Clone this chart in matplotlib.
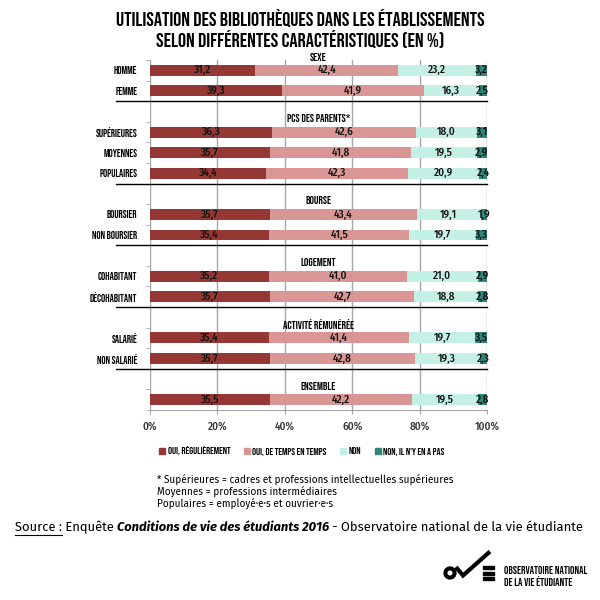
import matplotlib
matplotlib.use("Agg")
import matplotlib.pyplot as plt
from matplotlib.patches import Patch, Circle, Rectangle
from matplotlib.lines import Line2D

# groups of the survey, rows in each group
groups = ["SEXE", "PCS DES PARENTS*", "BOURSE", "LOGEMENT", "ACTIVITÉ RÉMUNÉRÉE", "ENSEMBLE"]
rows = [
    ["HOMME", "FEMME"],
    ["SUPÉRIEURES", "MOYENNES", "POPULAIRES"],
    ["BOURSIER", "NON BOURSIER"],
    ["COHABITANT", "DÉCOHABITANT"],
    ["SALARIÉ", "NON SALARIÉ"],
    [""],
]
series = ["OUI, RÉGULIÈREMENT", "OUI, DE TEMPS EN TEMPS", "NON", "NON, IL N'Y EN A PAS"]
oui_reg = [31.2, 39.3, 36.3, 35.7, 34.4, 35.7, 35.4, 35.2, 35.7, 35.4, 35.7, 35.5]
oui_tps = [42.4, 41.9, 42.6, 41.8, 42.3, 43.4, 41.5, 41.0, 42.7, 41.4, 42.8, 42.2]
non = [23.2, 16.3, 18.0, 19.5, 20.9, 19.1, 19.7, 21.0, 18.8, 19.7, 19.3, 19.5]
non_pas = [3.2, 2.5, 3.1, 2.9, 2.4, 1.9, 3.3, 2.9, 2.8, 3.5, 2.3, 2.8]
xticks = [0, 20, 40, 60, 80, 100]

colors = ["#953735", "#D99694", "#C5F0E6", "#2F8577"]
bebas = ["Bebas Neue", "DejaVu Sans"]
cond = ["Fira Sans Condensed", "DejaVu Sans"]
body = ["Fira Sans", "DejaVu Sans"]

fig = plt.figure(figsize=(6, 6), dpi=100)
ax = fig.add_axes([150/600, 1 - 410/600, 337/600, 350/600])
r = fig.canvas.get_renderer()

def fit(t, width_px):
    # scale a text so that it is width_px wide
    w = t.get_window_extent(r).width
    t.set_fontsize(t.get_fontsize() * width_px / w)
    return t.get_fontsize()

# slot index of each bar (one empty slot before each group title)
ypos, labels, titles_y, seps = [], [], [], []
k = 0
for gi, g in enumerate(rows):
    if gi > 0:
        k += 1
    titles_y.append(k - 0.63 if gi == 0 else k - 0.68)
    for lab in g:
        ypos.append(k)
        labels.append(lab)
        k += 1
    seps.append(k - 0.5)

data = [oui_reg, oui_tps, non, non_pas]
left = [0.0] * len(ypos)
for vals, c, name in zip(data, colors, series):
    ax.barh(ypos, vals, left=left, height=0.53, color=c, label=name, zorder=2)
    for y, l, v in zip(ypos, left, vals):
        ax.text(l + v / 2, y, f"{v:.1f}".replace(".", ","), ha="center", va="center",
                fontsize=8, family=cond, fontweight="medium", color="#111111", zorder=3)
    left = [a + b for a, b in zip(left, vals)]

ax.set_xlim(0, 100)
ax.set_ylim(ypos[-1] + 0.485, -0.485)
ax.set_xticks(xticks)
ax.set_xticklabels([f"{t}%" for t in xticks], fontsize=8, family=cond,
                   fontweight="medium", color="#333333")

# category label size from the width of "HOMME"
probe = fig.text(0, 0, "HOMME", family=bebas, fontsize=8)
cat_size = fit(probe, 24)
probe.remove()
ax.set_yticks(ypos)
ax.set_yticklabels(labels, fontsize=cat_size, family=bebas)
ax.tick_params(axis="y", length=0, pad=9)
ax.set_yticks([y + 0.5 for y in range(-1, ypos[-1] + 1)], minor=True)
ax.tick_params(axis="y", which="minor", length=3, color="#A6A6A6")
ax.tick_params(axis="x", length=3, color="#A6A6A6", pad=5)
ax.grid(axis="x", color="#A6A6A6", lw=1, zorder=0)
for s in ["top", "right", "left"]:
    ax.spines[s].set_visible(False)
ax.spines["bottom"].set_color("#A6A6A6")

sec_size = None
for g, ty in zip(groups, titles_y):
    t = ax.text(50, ty, g, ha="center", va="center", fontsize=8, family=bebas, clip_on=False)
    if sec_size is None:
        t.set_text("PCS DES PARENTS*")
        sec_size = fit(t, 64)
        t.set_text(g)
    t.set_fontsize(sec_size)
for s in seps[:-1]:
    ax.add_line(Line2D([-10, 100], [s, s], color="black", lw=1, clip_on=False, zorder=4))

probe = fig.text(0, 0, series[0], family=bebas, fontsize=8)
leg_size = fit(probe, 63)
probe.remove()
handles = [Patch(color=c) for c in colors]
fig.legend(handles, series, loc="center", bbox_to_anchor=(302/600, 1 - 451/600), ncol=4,
           frameon=False, handlelength=0.6, handleheight=0.6, handletextpad=0.25,
           columnspacing=1.35, prop={"family": "Bebas Neue", "size": leg_size})

t1 = fig.text(0.5, 1 - 26/600, "UTILISATION DES BIBLIOTHÈQUES DANS LES ÉTABLISSEMENTS",
              ha="center", va="baseline", fontsize=14, family=bebas)
size = fit(t1, 367)
fig.text(0.5, 1 - 47/600, "SELON DIFFÉRENTES CARACTÉRISTIQUES (EN %)",
         ha="center", va="baseline", fontsize=size, family=bebas)

notes = ["* Supérieures = cadres et professions intellectuelles supérieures",
         "Moyennes = professions intermédiaires",
         "Populaires = employé·e·s et ouvrier·e·s"]
nsize = None
for i, n in enumerate(notes):
    t = fig.text(157/600, 1 - (480 + 12 * i)/600, n, ha="left", va="center",
                 fontsize=7.5, family=body)
    if nsize is None:
        nsize = fit(t, 295)
    t.set_fontsize(nsize)

# source line built piece by piece
parts = [("Source :", "normal", "normal"), (" Enquête ", "normal", "normal"),
         ("Conditions de vie des étudiants 2016", "bold", "italic"),
         (" - Observatoire national de la vie étudiante", "normal", "normal")]
texts = [fig.text(0, 0, p[0], fontsize=10, family=body, fontweight=p[1], fontstyle=p[2])
         for p in parts]
total = sum(t.get_window_extent(r).width for t in texts)
ssize = 10 * 567 / total
x = 15 / 600
ys = 1 - 527/600
for i, t in enumerate(texts):
    t.set_fontsize(ssize)
    t.set_position((x, ys))
    t.set_va("center")
    w = t.get_window_extent(r).width / 600
    if i == 0:
        fig.add_artist(Line2D([x, x + w], [ys - 8/600, ys - 8/600],
                              color="black", lw=0.8, transform=fig.transFigure))
    x += w

# OVE logo
tf = fig.transFigure
def P(px, py):
    return (px / 600, 1 - py / 600)
fig.add_artist(Circle(P(450, 573), 4.6/600, fill=False, lw=2.9, ec="black", transform=tf))
xs, ys2 = zip(P(456, 567), P(463, 575.5), P(490, 551.5))
fig.add_artist(Line2D(xs, ys2, color="black", lw=3, solid_joinstyle="miter",
                      solid_capstyle="butt", transform=tf))
for by in [567.5, 573, 578.5]:
    fig.add_artist(Rectangle(P(483, by + 1.5), 11/600, 3/600, color="black", transform=tf))
t = fig.text(504/600, 1 - 570.5/600, "OBSERVATOIRE NATIONAL", ha="left", va="center",
             fontsize=7, family=bebas)
lsize = fit(t, 82)
fig.text(504/600, 1 - 581.5/600, "DE LA VIE ÉTUDIANTE", ha="left", va="center",
         fontsize=lsize, family=bebas)

fig.savefig("out.png", dpi=100)
